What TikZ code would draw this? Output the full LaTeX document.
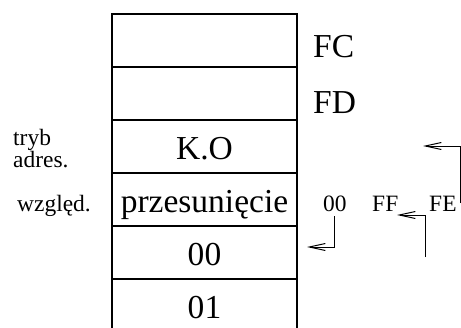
\documentclass[tikz,border=0pt]{standalone}
\usepackage{fontspec}
\setmainfont{Liberation Serif}
\usetikzlibrary{positioning, arrows.meta}
\tikzset{%
	>={Straight Barb[length=4.8mm,width=2.1mm]},
	cell/.style = {name = #1, draw, line width = 1.1pt, outer sep = 0pt, inner sep = 0pt,
		minimum width = 55.5mm, minimum height = 15.9mm, text height = 23pt, text depth = 0pt,
		font = \fontsize{28.6}{30}\selectfont},
	big/.style = {inner sep = 0pt, anchor = base west, font = \fontsize{28.6}{30}\selectfont},
	small/.style = {inner sep = 0pt, anchor = base west, font = \fontsize{20}{22}\selectfont},
	jump/.style = {->, line width = 0.85pt}
}
\begin{document}
\begin{tikzpicture}[x=0.3mm, y=-0.3mm]
	\clip (0,0) rectangle (461,327);
	% stos komorek
	\node [cell = c1] at (204.5,40.5) {};
	\node [cell = c2, below = 0pt of c1] {};
	\node [cell = c3, below = 0pt of c2] {K.O};
	\node [cell = c4, below = 0pt of c3] {przesunięcie};
	\node [cell = c5, below = 0pt of c4] {00};
	\node [cell = c6, below = 0pt of c5] {01};
	% adresy
	\node [big] (fc) at (313,57) {FC};
	\node [big] (fd) at (313,113) {FD};
	\node [small] (tryb) at (13,145) {tryb};
	\node [small] (adres) at (13,167) {adres.};
	\node [small] (wzgl) at (17,211) {wzgl\k{e}d.};
	\node [small] (o00) at (323,211) {00};
	\node [small] (oFF) at (372,211) {FF};
	\node [small] (oFE) at (429,211) {FE};
	% skoki
	\coordinate (s1) at (334,216);
	\coordinate (e1) at (307,247);
	\coordinate (s2) at (425,257);
	\coordinate (e2) at (397,215);
	\coordinate (s3) at (460,203);
	\coordinate (e3) at (423,146);
	\draw [jump] (s1) |- (e1);
	\draw [jump] (s2) |- (e2);
	\draw [jump] (s3) |- (e3);
\end{tikzpicture}
\end{document}
